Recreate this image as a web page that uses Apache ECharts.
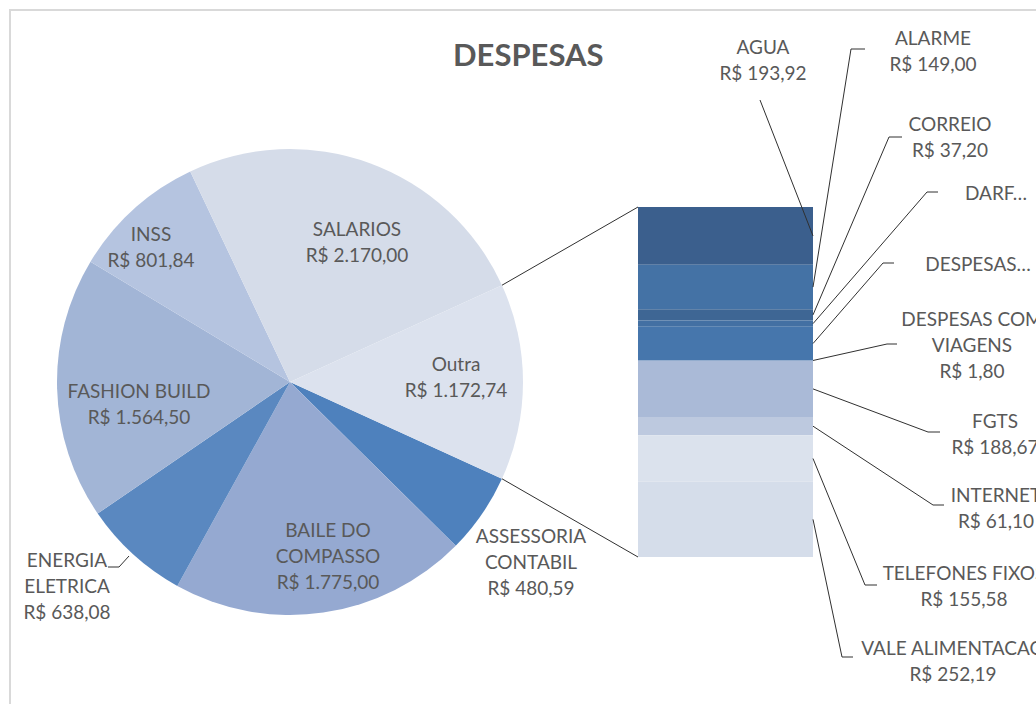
<!DOCTYPE html>
<html><head><meta charset="utf-8">
<script src="https://cdn.jsdelivr.net/npm/echarts@6/dist/echarts.min.js"></script>
<style>html,body{margin:0;padding:0;background:#fff}#c{width:1036px;height:704px}</style>
</head><body><div id="c"></div>
<script>
// ---- data ----
const pieCategories = ['ASSESSORIA\nCONTABIL', 'BAILE DO\nCOMPASSO', 'ENERGIA\nELETRICA', 'FASHION BUILD', 'INSS', 'SALARIOS', 'Outra'];
const pieValues = [480.59, 1775.00, 638.08, 1564.50, 801.84, 2170.00, 1172.74];
const barCategories = ['AGUA', 'ALARME', 'CORREIO', 'DARF…', 'DESPESAS…', 'DESPESAS COM\nVIAGENS', 'FGTS', 'INTERNET', 'TELEFONES FIXOS', 'VALE ALIMENTACAO'];
const barValues = [193.92, 149.00, 37.20, 21.50, 111.78, 1.80, 188.67, 61.10, 155.58, 252.19];
const barShowValue = [true, true, true, false, false, true, true, true, true, true];

// ---- styles / layout ----
const TEXT = '#595959', LINE = '#303030', FONT = 'Lato';
const PIE_CENTER = [290, 382], PIE_R = 233;
const pieColors = ['#4E81BD', '#95A9D1', '#5A88C0', '#A2B5D6', '#B5C4E0', '#D5DCE9', '#DCE2EE'];
const pieLabelSpots = [[531, 561], [328, 555], [67, 585], [139, 403], [151, 246], [357, 241], [456, 376]];
const energiaLeader = [[129, 556], [119, 567], [108, 567]];
const barColors = ['#3B5F8D', '#4472A5', '#3E6694', '#4370A3', '#4676AC', '#4676AC', '#AABAD7', '#BDC9DF', '#DBE2ED', '#D5DDEA'];
const barLabelSpots = [[763, 59], [933, 50], [950, 136], [996, 192], [978, 263], [972, 344], [995, 433], [996, 507], [964, 585], [953, 660]];
const barLeaderPaths = [
  [[760, 100]],
  [[851, 49], [865, 49]],
  [[889, 137], [902, 137]],
  [[927, 192], [938, 192]],
  [[883, 263], [894, 263]],
  [[887, 344], [897, 344]],
  [[928, 432], [940, 432]],
  [[933, 505], [944, 505]],
  [[865, 585], [877, 585]],
  [[842, 657], [853, 657]]
];

function fmt(v) {
  const parts = v.toFixed(2).split('.');
  parts[0] = parts[0].replace(/\B(?=(\d{3})+(?!\d))/g, '.');
  return 'R$ ' + parts[0] + ',' + parts[1];
}

const pieTotal = pieValues.reduce((a, b) => a + b, 0);
const barTotal = barValues.reduce((a, b) => a + b, 0);
const outraHalf = pieValues[pieValues.length - 1] / pieTotal * 180;
const cum = [];
barValues.reduce((acc, v, i) => { cum.push([0, acc, acc + v]); return acc + v; }, 0);

const chart = echarts.init(document.getElementById('c'), null, { renderer: 'svg' });
const option = {
  animation: false,
  title: {
    text: 'DESPESAS', left: 453, top: 34, padding: 0,
    textStyle: { fontFamily: FONT, fontWeight: 'bold', fontSize: 31, lineHeight: 40, color: TEXT }
  },
  graphic: [{
    type: 'rect', silent: true, z: -10,
    shape: { x: 10, y: 10, width: 1200, height: 900 },
    style: { fill: 'none', stroke: '#d9d9d9', lineWidth: 2 }
  }],
  grid: { left: 638, top: 207, width: 175, height: 350 },
  xAxis: { type: 'category', data: ['Outra'], show: false },
  yAxis: { type: 'value', min: 0, max: barTotal, inverse: true, show: false },
  series: [
    {
      type: 'pie', center: PIE_CENTER, radius: PIE_R, clockwise: true,
      startAngle: -outraHalf, avoidLabelOverlap: false, silent: true,
      data: pieCategories.map((n, i) => ({ name: n, value: pieValues[i], itemStyle: { color: pieColors[i] } })),
      label: {
        show: true, position: 'inside', color: TEXT, fontFamily: FONT, fontSize: 19, lineHeight: 26,
        formatter: p => p.name + '\n' + fmt(p.value)
      },
      labelLine: { show: false },
      labelLayout: p => ({ x: pieLabelSpots[p.dataIndex][0], y: pieLabelSpots[p.dataIndex][1], align: 'center', verticalAlign: 'middle' })
    },
    ...barValues.map((v, i) => ({
      type: 'bar', name: barCategories[i], stack: 'outra', data: [v], barWidth: '100%', silent: true,
      itemStyle: { color: barColors[i] }
    })),
    {
      type: 'custom', clip: false, silent: true, z: 5,
      data: cum,
      renderItem: function (params, api) {
        const i = params.dataIndex;
        const y0 = api.value(1), y1 = api.value(2);
        const band = api.size([1, 0])[0];
        const mid = api.coord([0, (y0 + y1) / 2]);
        const start = [mid[0] + band / 2, mid[1]];
        const txt = barCategories[i] + (barShowValue[i] ? '\n' + fmt(barValues[i]) : '');
        const children = [
          { type: 'polyline', shape: { points: [start].concat(barLeaderPaths[i]) }, style: { stroke: LINE, lineWidth: 1, fill: null } },
          { type: 'text', x: barLabelSpots[i][0], y: barLabelSpots[i][1],
            style: { text: txt, align: 'center', verticalAlign: 'middle', fill: TEXT, fontFamily: FONT, fontSize: 19, lineHeight: 26 } }
        ];
        if (i === 0) {
          const top = api.coord([0, 0]), bot = api.coord([0, barTotal]);
          const a = outraHalf * Math.PI / 180;
          const px = PIE_CENTER[0] + PIE_R * Math.cos(a);
          children.push({ type: 'line', shape: { x1: px, y1: PIE_CENTER[1] - PIE_R * Math.sin(a), x2: top[0] - band / 2, y2: top[1] }, style: { stroke: LINE, lineWidth: 1 } });
          children.push({ type: 'line', shape: { x1: px, y1: PIE_CENTER[1] + PIE_R * Math.sin(a), x2: bot[0] - band / 2, y2: bot[1] }, style: { stroke: LINE, lineWidth: 1 } });
          children.push({ type: 'polyline', shape: { points: energiaLeader }, style: { stroke: LINE, lineWidth: 1, fill: null } });
        }
        return { type: 'group', children: children };
      }
    }
  ]
};
chart.setOption(option);
</script>
</body></html>
